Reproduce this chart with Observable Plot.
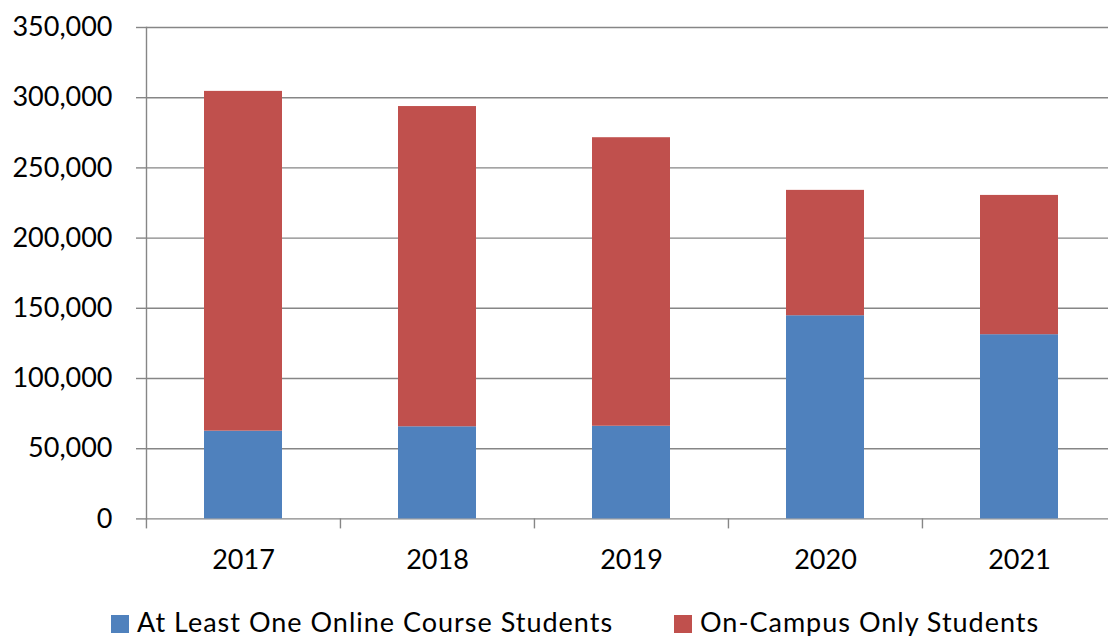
<!DOCTYPE html>
<html>
<head>
<meta charset="utf-8">
<script src="https://cdn.jsdelivr.net/npm/d3@7"></script>
<script src="https://cdn.jsdelivr.net/npm/@observablehq/plot@0.6"></script>
<style>
  html, body { margin: 0; padding: 0; background: white; overflow: hidden; }
  #wrap { position: relative; width: 1108px; height: 636px; font-family: Lato, "Open Sans", sans-serif; }
  #legend { position: absolute; left: 0; top: 0; width: 1108px; height: 636px; pointer-events: none; }
  .item { position: absolute; top: 604px; display: flex; align-items: center; font-size: 27px; color: #000; white-space: nowrap; line-height: 36px; letter-spacing: 1px; }
  .sw { width: 18px; height: 18px; margin-right: 8px; margin-top: 4px; }
</style>
</head>
<body>
<div id="wrap"><div id="chart"></div><div id="legend"></div></div>
<script>
const years = ["2017", "2018", "2019", "2020", "2021"];
const online = [62500, 65600, 66000, 144700, 131200];
const onCampus = [242000, 228100, 205500, 89300, 99200];
const seriesNames = ["At Least One Online Course Students", "On-Campus Only Students"];
const seriesColors = ["#4F81BD", "#C0504D"];
const yTicks = [0, 50000, 100000, 150000, 200000, 250000, 300000, 350000];

const data = [];
years.forEach((y, i) => {
  data.push({year: y, series: seriesNames[0], value: online[i]});
  data.push({year: y, series: seriesNames[1], value: onCampus[i]});
});

const W = 1108, H = 585;
const mL = 146, mR = -8.5, mT = 27, mB = H - 518.4;
const step = (W - mR - mL) / years.length;
const pxPerUnit = (H - mB - mT) / 350000;
const tickLen = 10 / pxPerUnit;

const chart = Plot.plot({
  width: W,
  height: H,
  marginLeft: mL,
  marginRight: mR,
  marginTop: mT,
  marginBottom: mB,
  style: "overflow: hidden; font-family: Lato, 'Open Sans', sans-serif; font-size: 27px; color: #000; background: white;",
  x: {domain: years, paddingInner: 0.6, paddingOuter: 0.3, label: null},
  y: {domain: [0, 350000], label: null},
  color: {domain: seriesNames, range: seriesColors},
  marks: [
    Plot.gridY(yTicks, {stroke: "#868686", strokeOpacity: 1, strokeWidth: 1.4}),
    Plot.barY(data, {x: "year", y: "value", fill: "series", order: seriesNames}),
    Plot.frame({anchor: "left", stroke: "#868686", strokeWidth: 1.4}),
    Plot.ruleX(years, {x: d => d, y1: 0, y2: -tickLen, dx: -step / 2, stroke: "#868686", strokeWidth: 1.4}),
    Plot.axisY(yTicks, {tickSize: 10, tickPadding: 24, tickFormat: d3.format(","), stroke: "#868686", strokeWidth: 1.4, fill: "#000", fontSize: 27}),
    Plot.axisX(years, {tickSize: 0, tickPadding: 31, fill: "#000", fontSize: 27})
  ]
});
document.getElementById("chart").appendChild(chart);

const legend = document.getElementById("legend");
const lefts = [111, 674];
seriesNames.forEach((name, i) => {
  const it = document.createElement("div");
  it.className = "item";
  it.style.left = lefts[i] + "px";
  const sw = document.createElement("div");
  sw.className = "sw";
  sw.style.background = seriesColors[i];
  const t = document.createElement("span");
  t.textContent = name;
  it.appendChild(sw);
  it.appendChild(t);
  legend.appendChild(it);
});
</script>
</body>
</html>
